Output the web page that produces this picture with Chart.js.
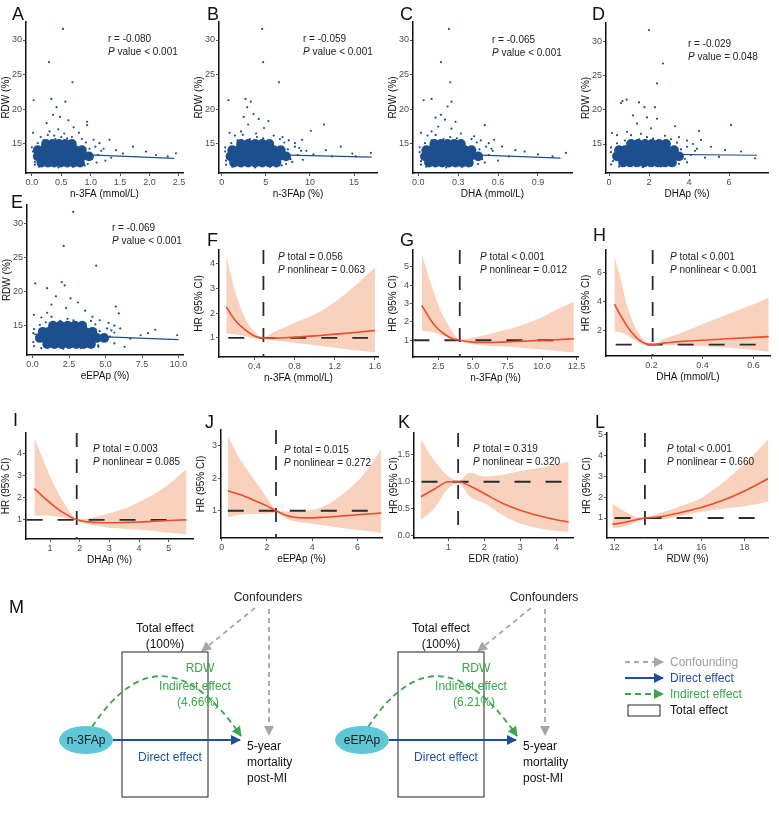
<!DOCTYPE html>
<html>
<head>
<meta charset="utf-8">
<script src="https://cdn.jsdelivr.net/npm/chart.js@4.4.1/dist/chart.umd.min.js"></script>
<style>
body { margin:0; background:#fff; font-family:"Liberation Sans", Arial, sans-serif; }
#wrap { position:relative; width:779px; height:835px; overflow:hidden; background:#fff; }
#wrap canvas { position:absolute; z-index:1; }
.lbl { position:absolute; font-size:18px; line-height:18px; color:#111; z-index:3; }
.note { position:absolute; font-size:10px; line-height:12.5px; color:#222; white-space:nowrap; z-index:3; }
svg text { font-family:"Liberation Sans", Arial, sans-serif; font-size:12px; }
</style>
</head>
<body>
<div id="wrap">
  <div class="lbl" style="left:12px;top:5px">A</div>
  <div class="lbl" style="left:207px;top:5px">B</div>
  <div class="lbl" style="left:400px;top:5px">C</div>
  <div class="lbl" style="left:592px;top:5px">D</div>
  <div class="lbl" style="left:11px;top:193px">E</div>
  <div class="lbl" style="left:207px;top:231px">F</div>
  <div class="lbl" style="left:400px;top:231px">G</div>
  <div class="lbl" style="left:593px;top:226px">H</div>
  <div class="lbl" style="left:13px;top:411px">I</div>
  <div class="lbl" style="left:205px;top:413px">J</div>
  <div class="lbl" style="left:398px;top:413px">K</div>
  <div class="lbl" style="left:595px;top:413px">L</div>
  <div class="lbl" style="left:9px;top:598px">M</div>

  <div class="note" style="left:108px;top:33px">r = -0.080<br><i>P</i> value &lt; 0.001</div>
  <div class="note" style="left:303px;top:33px">r = -0.059<br><i>P</i> value &lt; 0.001</div>
  <div class="note" style="left:492px;top:34px">r = -0.065<br><i>P</i> value &lt; 0.001</div>
  <div class="note" style="left:688px;top:38px">r = -0.029<br><i>P</i> value = 0.048</div>
  <div class="note" style="left:112px;top:222px">r = -0.069<br><i>P</i> value &lt; 0.001</div>
  <div class="note" style="left:278px;top:251px"><i>P</i> total = 0.056<br><i>P</i> nonlinear = 0.063</div>
  <div class="note" style="left:480px;top:251px"><i>P</i> total &lt; 0.001<br><i>P</i> nonlinear = 0.012</div>
  <div class="note" style="left:670px;top:251px"><i>P</i> total &lt; 0.001<br><i>P</i> nonlinear &lt; 0.001</div>
  <div class="note" style="left:93px;top:443px"><i>P</i> total = 0.003<br><i>P</i> nonlinear = 0.085</div>
  <div class="note" style="left:284px;top:444px"><i>P</i> total = 0.015<br><i>P</i> nonlinear = 0.272</div>
  <div class="note" style="left:473px;top:443px"><i>P</i> total = 0.319<br><i>P</i> nonlinear = 0.320</div>
  <div class="note" style="left:667px;top:443px"><i>P</i> total &lt; 0.001<br><i>P</i> nonlinear = 0.660</div>

  <svg width="779" height="835" style="position:absolute;left:0;top:0;z-index:2">
    <defs>
      <marker id="hg" markerUnits="userSpaceOnUse" viewBox="0 0 10 10" refX="9" refY="5" markerWidth="11" markerHeight="10" orient="auto"><path d="M0,0 L10,5 L0,10 z" fill="#a6a6a6"/></marker>
      <marker id="hb" markerUnits="userSpaceOnUse" viewBox="0 0 10 10" refX="9" refY="5" markerWidth="11" markerHeight="10" orient="auto"><path d="M0,0 L10,5 L0,10 z" fill="#1f4e9b"/></marker>
      <marker id="hgr" markerUnits="userSpaceOnUse" viewBox="0 0 10 10" refX="9" refY="5" markerWidth="11" markerHeight="10" orient="auto"><path d="M0,0 L10,5 L0,10 z" fill="#3aa64a"/></marker>
    </defs>
    <g>
      <text x="268" y="601" text-anchor="middle" fill="#222">Confounders</text>
      <path d="M255,608 L202,651" stroke="#a6a6a6" stroke-width="1.8" stroke-dasharray="5 4" fill="none" marker-end="url(#hg)"/>
      <path d="M269,609 L269,735" stroke="#a6a6a6" stroke-width="1.8" stroke-dasharray="5 4" fill="none" marker-end="url(#hg)"/>
      <text x="165" y="632" text-anchor="middle" fill="#111">Total effect</text>
      <text x="165" y="648" text-anchor="middle" fill="#111">(100%)</text>
      <rect x="122" y="652" width="86" height="145" fill="none" stroke="#222" stroke-width="1"/>
      <text x="200" y="672" text-anchor="middle" fill="#3aa64a">RDW</text>
      <path d="M92,727 Q162,621 241,736" stroke="#3aa64a" stroke-width="1.8" stroke-dasharray="6 4" fill="none" marker-end="url(#hgr)"/>
      <text x="195" y="690" text-anchor="middle" fill="#3aa64a">Indirect effect</text>
      <text x="198" y="706" text-anchor="middle" fill="#3aa64a">(4.66%)</text>
      <ellipse cx="86" cy="740" rx="27" ry="14" fill="#5fc7d6"/>
      <text x="86" y="744" text-anchor="middle" fill="#1a1a1a">n-3FAp</text>
      <path d="M113,740 L240,740" stroke="#1f4e9b" stroke-width="1.8" fill="none" marker-end="url(#hb)"/>
      <text x="170" y="761" text-anchor="middle" fill="#1f4e9b">Direct effect</text>
      <text x="247" y="750" fill="#111">5-year</text>
      <text x="247" y="766" fill="#111">mortality</text>
      <text x="247" y="782" fill="#111">post-MI</text>
    </g>
    <g transform="translate(276,0)">
      <text x="268" y="601" text-anchor="middle" fill="#222">Confounders</text>
      <path d="M255,608 L202,651" stroke="#a6a6a6" stroke-width="1.8" stroke-dasharray="5 4" fill="none" marker-end="url(#hg)"/>
      <path d="M269,609 L269,735" stroke="#a6a6a6" stroke-width="1.8" stroke-dasharray="5 4" fill="none" marker-end="url(#hg)"/>
      <text x="165" y="632" text-anchor="middle" fill="#111">Total effect</text>
      <text x="165" y="648" text-anchor="middle" fill="#111">(100%)</text>
      <rect x="122" y="652" width="86" height="145" fill="none" stroke="#222" stroke-width="1"/>
      <text x="200" y="672" text-anchor="middle" fill="#3aa64a">RDW</text>
      <path d="M92,727 Q162,621 241,736" stroke="#3aa64a" stroke-width="1.8" stroke-dasharray="6 4" fill="none" marker-end="url(#hgr)"/>
      <text x="195" y="690" text-anchor="middle" fill="#3aa64a">Indirect effect</text>
      <text x="198" y="706" text-anchor="middle" fill="#3aa64a">(6.21%)</text>
      <ellipse cx="86" cy="740" rx="27" ry="14" fill="#5fc7d6"/>
      <text x="86" y="744" text-anchor="middle" fill="#1a1a1a">eEPAp</text>
      <path d="M113,740 L240,740" stroke="#1f4e9b" stroke-width="1.8" fill="none" marker-end="url(#hb)"/>
      <text x="170" y="761" text-anchor="middle" fill="#1f4e9b">Direct effect</text>
      <text x="247" y="750" fill="#111">5-year</text>
      <text x="247" y="766" fill="#111">mortality</text>
      <text x="247" y="782" fill="#111">post-MI</text>
    </g>
    <g>
      <path d="M625,662 L663,662" stroke="#a6a6a6" stroke-width="1.8" stroke-dasharray="5 4" marker-end="url(#hg)"/>
      <text x="670" y="666" fill="#a0a0a0">Confounding</text>
      <path d="M625,678 L663,678" stroke="#1f4e9b" stroke-width="1.8" marker-end="url(#hb)"/>
      <text x="670" y="682" fill="#1f4e9b">Direct effect</text>
      <path d="M625,694 L663,694" stroke="#3aa64a" stroke-width="1.8" stroke-dasharray="6 4" marker-end="url(#hgr)"/>
      <text x="670" y="698" fill="#3aa64a">Indirect effect</text>
      <rect x="628" y="705" width="32" height="11" fill="none" stroke="#222" stroke-width="1"/>
      <text x="670" y="714" fill="#111">Total effect</text>
    </g>
  </svg>
</div>

<script>
// ---- scatter panels A-E: RDW vs omega-3 measures ----
const rdwTicks = [15, 20, 25, 30];

const xtA = [0, 0.5, 1, 1.5, 2, 2.5];
const coreA = [[0.16,12.3],[0.27,12.3],[0.38,12.3],[0.49,12.3],[0.60,12.3],[0.71,12.3],[0.82,12.3],
  [0.1,13.2],[0.19,13.2],[0.30,13.2],[0.41,13.2],[0.52,13.2],[0.63,13.2],[0.74,13.2],[0.85,13.2],[0.97,13.2],
  [0.1,14.1],[0.19,14.1],[0.30,14.1],[0.41,14.1],[0.52,14.1],[0.63,14.1],[0.74,14.1],[0.85,14.1],
  [0.24,15.0],[0.35,15.0],[0.46,15.0],[0.57,15.0],[0.68,15.0]];
const sparseA = [[0.53,31.6],[0.29,26.8],[0.69,23.9],[0.03,21.3],[0.33,21.5],[0.57,21.1],[0.42,20.3],[0.36,19.2],
  [0.48,18.9],[0.62,18.4],[0.94,18.2],[0.94,17.7],[0.25,18.0],[0.71,17.4],[0.3,16.8],[0.45,17.1],[0.55,16.5],
  [0.38,16.2],[0.68,16.0],[0.8,16.6],[0.15,16.0],[0.02,16.6],[1.05,15.6],[1.15,15.1],[1.32,15.6],[1.22,14.3],
  [1.43,14.1],[1.35,13.0],[1.55,13.6],[1.72,14.6],[1.94,13.9],[2.11,13.4],[2.31,13.2],[2.45,13.65],[1.1,12.3],
  [1.25,12.6],[0.05,12.4],[0.02,13.9],[0.9,11.9],[0.3,11.8],
  [0.05,12.0],[0.12,11.7],[0.45,11.6],[0.7,11.7],[0.95,12.1],[1.02,12.8],[1.12,13.4],[1.18,14.0],[1.08,14.6],
  [0.98,14.3],[0.92,15.2],[0.85,15.7],[0.6,15.8],[0.4,15.7],[0.2,15.5],[0.1,15.1],[0.0,14.5],[0.5,16.0],[0.27,16.3]];
const fitA = [[0.05,13.75],[2.42,12.9]];

const xtB = [0, 5, 10, 15];
const coreB = [[1.4,12.3],[2.2,12.3],[3.0,12.3],[3.8,12.3],[4.6,12.3],[5.4,12.3],[6.2,12.3],
  [1.0,13.2],[1.7,13.2],[2.5,13.2],[3.3,13.2],[4.1,13.2],[4.9,13.2],[5.7,13.2],[6.5,13.2],[7.3,13.2],
  [1.2,14.1],[1.9,14.1],[2.7,14.1],[3.5,14.1],[4.3,14.1],[5.1,14.1],[5.9,14.1],[6.7,14.1],
  [2.2,15.0],[3.0,15.0],[3.8,15.0],[4.6,15.0],[5.4,15.0]];
const sparseB = [[4.6,31.6],[4.7,26.8],[6.5,23.9],[0.76,21.3],[2.7,21.5],[3.3,21.1],[2.9,20.3],[3.6,19.3],[2.5,18.9],
  [4.2,18.6],[5.3,18.3],[3.0,17.8],[4.8,17.3],[10.1,16.9],[11.6,17.8],[2.2,16.8],[3.9,16.5],[5.9,16.2],[6.9,16.0],
  [1.5,16.2],[0.9,16.6],[7.6,15.5],[8.3,15.1],[9.1,15.6],[8.8,14.4],[9.6,14.0],[10.4,13.5],[11.8,14.1],[12.5,13.2],
  [13.5,14.6],[14.8,13.6],[15.2,13.2],[16.9,13.7],[8.0,12.4],[9.2,12.7],[0.5,12.6],[0.4,13.9],[6.8,11.9],[2.0,11.8],
  [0.5,12.0],[1.2,11.7],[3.8,11.6],[5.5,11.7],[7.3,12.1],[7.8,12.8],[8.6,13.4],[9.0,14.0],[8.3,14.6],
  [7.5,14.2],[7.1,15.2],[6.6,15.7],[4.7,15.8],[3.2,15.7],[1.8,15.5],[1.1,15.1],[0.4,14.5],[4.0,16.0],[2.4,16.3]];
const fitB = [[0.8,13.6],[17,13.1]];

const xtC = [0, 0.3, 0.6, 0.9];
const coreC = [[0.08,12.3],[0.13,12.3],[0.18,12.3],[0.23,12.3],[0.28,12.3],[0.33,12.3],[0.38,12.3],
  [0.05,13.2],[0.09,13.2],[0.14,13.2],[0.19,13.2],[0.24,13.2],[0.29,13.2],[0.34,13.2],[0.39,13.2],[0.45,13.2],
  [0.06,14.1],[0.10,14.1],[0.15,14.1],[0.20,14.1],[0.25,14.1],[0.30,14.1],[0.35,14.1],[0.40,14.1],
  [0.12,15.0],[0.17,15.0],[0.22,15.0],[0.27,15.0],[0.32,15.0]];
const sparseC = [[0.23,31.6],[0.17,26.8],[0.24,23.9],[0.04,21.3],[0.10,21.5],[0.25,21.1],[0.22,20.4],[0.17,19.2],
  [0.13,18.8],[0.2,18.5],[0.28,18.2],[0.5,17.7],[0.15,17.5],[0.25,17.2],[0.1,16.8],[0.32,16.5],[0.42,16.1],[0.07,16.2],
  [0.02,16.6],[0.47,15.5],[0.53,15.1],[0.57,15.6],[0.55,14.3],[0.63,14.6],[0.73,14.1],[0.8,13.9],[0.68,13.2],[0.9,13.5],
  [1.01,13.2],[1.11,13.7],[0.5,12.3],[0.6,12.6],[0.02,12.5],[0.01,13.8],[0.4,11.9],[0.12,11.8],
  [0.02,12.0],[0.06,11.7],[0.21,11.6],[0.33,11.7],[0.45,12.1],[0.48,12.8],[0.53,13.4],[0.56,14.0],[0.51,14.6],
  [0.46,14.2],[0.44,15.2],[0.4,15.7],[0.29,15.8],[0.19,15.7],[0.1,15.5],[0.05,15.1],[0.01,14.5],[0.24,16.0],[0.13,16.3]];
const fitC = [[0.03,13.7],[1.07,12.95]];

const xtD = [0, 2, 4, 6];
const coreD = [[0.7,12.3],[1.05,12.3],[1.4,12.3],[1.75,12.3],[2.1,12.3],[2.45,12.3],[2.8,12.3],[3.15,12.3],
  [0.4,13.2],[0.7,13.2],[1.05,13.2],[1.4,13.2],[1.75,13.2],[2.1,13.2],[2.45,13.2],[2.8,13.2],[3.15,13.2],[3.5,13.2],
  [0.5,14.1],[0.8,14.1],[1.15,14.1],[1.5,14.1],[1.85,14.1],[2.2,14.1],[2.55,14.1],[2.9,14.1],[3.25,14.1],
  [1.1,15.0],[1.45,15.0],[1.8,15.0],[2.15,15.0],[2.5,15.0],[2.85,15.0]];
const sparseD = [[2.0,31.7],[2.7,26.8],[2.4,23.9],[0.67,21.3],[0.88,21.5],[0.6,21.0],[1.5,21.1],[2.3,20.4],[1.77,20.4],
  [1.2,19.2],[1.9,18.9],[2.4,18.7],[1.4,18.0],[3.3,17.6],[4.5,16.9],[6.1,17.8],[2.1,17.3],[0.9,16.8],[1.6,16.5],
  [2.8,16.2],[3.5,16.0],[0.4,16.3],[0.15,16.6],[3.9,15.5],[4.2,15.0],[4.6,15.6],[4.4,14.3],[5.1,14.6],[5.8,14.1],
  [6.6,13.9],[4.8,13.0],[5.5,13.1],[7.3,12.9],[3.9,12.3],[0.2,12.5],[0.1,13.8],[3.2,11.9],[1.0,11.8],
  [0.1,12.0],[0.5,11.7],[1.7,11.6],[2.6,11.7],[3.5,12.1],[3.8,12.8],[4.1,13.4],[4.3,14.0],[3.9,14.6],
  [3.6,14.2],[3.4,15.2],[3.1,15.7],[2.2,15.8],[1.5,15.7],[0.8,15.5],[0.4,15.1],[0.1,14.5],[1.9,16.0],[1.1,16.3]];
const fitD = [[0.2,13.55],[7.4,13.35]];

const xtE = [0, 2.5, 5, 7.5, 10];
const coreE = [[1.0,12.3],[1.5,12.3],[2.0,12.3],[2.5,12.3],[3.0,12.3],[3.5,12.3],[4.0,12.3],
  [0.5,13.2],[0.9,13.2],[1.4,13.2],[1.9,13.2],[2.4,13.2],[2.9,13.2],[3.4,13.2],[3.9,13.2],[4.4,13.2],[4.9,13.2],
  [0.7,14.1],[1.1,14.1],[1.6,14.1],[2.1,14.1],[2.6,14.1],[3.1,14.1],[3.6,14.1],[4.1,14.1],
  [1.4,15.0],[1.9,15.0],[2.4,15.0],[2.9,15.0],[3.4,15.0]];
const sparseE = [[2.78,31.7],[2.13,26.7],[4.36,23.8],[0.18,21.2],[2.0,21.4],[2.2,20.9],[0.99,20.5],[1.6,19.3],[2.6,19.0],
  [3.1,18.4],[1.3,18.1],[2.3,17.6],[3.6,17.2],[5.7,17.8],[5.9,16.8],[1.0,16.9],[0.1,16.6],[0.6,16.2],[4.1,16.3],
  [4.6,15.8],[5.2,15.4],[5.6,15.0],[5.4,14.3],[6.0,14.6],[6.7,13.1],[7.4,13.6],[7.9,13.9],[8.4,14.4],[9.9,13.6],
  [6.3,11.9],[5.6,12.4],[0.05,12.6],[0.05,13.9],[4.5,11.9],[1.5,11.8],
  [0.1,12.0],[0.6,11.7],[2.1,11.6],[3.3,11.7],[4.5,12.1],[4.8,12.8],[5.3,13.4],[5.6,14.0],[5.1,14.6],
  [4.6,14.2],[4.3,15.2],[4.0,15.7],[2.8,15.8],[1.9,15.7],[0.9,15.5],[0.5,15.1],[0.1,14.5],[2.4,16.0],[1.3,16.3]];
const fitE = [[0.1,13.75],[10,12.95]];

// ---- restricted cubic spline panels F-L: HR (95% CI) ----
const xF  = [0.12, 0.2, 0.3, 0.4, 0.48, 0.6, 0.8, 1.0, 1.2, 1.4, 1.6];
const hrF = [2.25, 1.75, 1.35, 1.08, 1.0, 0.99, 1.03, 1.08, 1.15, 1.22, 1.3];
const loF = [1.18, 1.15, 1.08, 0.98, 0.97, 0.9, 0.8, 0.7, 0.6, 0.5, 0.42];
const hiF = [4.3, 3.0, 1.85, 1.25, 1.02, 1.25, 1.6, 1.95, 2.45, 3.1, 3.85];

const xG  = [1.3, 2.0, 2.5, 3.0, 3.5, 4.05, 5, 6, 7, 8, 9, 10, 11, 12.3];
const hrG = [2.9, 2.05, 1.6, 1.3, 1.1, 1.0, 0.9, 0.88, 0.9, 0.93, 0.96, 1.0, 1.03, 1.08];
const loG = [1.5, 1.45, 1.35, 1.2, 1.08, 0.98, 0.78, 0.7, 0.66, 0.62, 0.55, 0.5, 0.42, 0.35];
const hiG = [5.7, 4.0, 2.9, 2.1, 1.5, 1.02, 1.15, 1.3, 1.5, 1.7, 1.95, 2.25, 2.65, 3.1];

const xH  = [0.055, 0.08, 0.1, 0.12, 0.15, 0.18, 0.205, 0.25, 0.3, 0.4, 0.5, 0.6, 0.66];
const hrH = [3.8, 3.0, 2.4, 1.9, 1.35, 1.05, 1.0, 1.1, 1.2, 1.3, 1.4, 1.5, 1.55];
const loH = [1.9, 1.85, 1.7, 1.45, 1.15, 0.95, 0.97, 0.97, 0.95, 0.88, 0.78, 0.62, 0.5];
const hiH = [7.1, 5.5, 4.0, 2.9, 1.8, 1.15, 1.02, 1.4, 1.7, 2.4, 3.1, 3.8, 4.25];

const xI  = [0.47, 0.8, 1.2, 1.6, 1.9, 2.2, 2.6, 3.0, 3.5, 4.0, 4.5, 5.0, 5.6];
const hrI = [2.4, 2.0, 1.55, 1.2, 1.0, 0.92, 0.88, 0.87, 0.88, 0.9, 0.94, 0.97, 1.0];
const loI = [1.2, 1.2, 1.15, 1.05, 0.97, 0.82, 0.72, 0.65, 0.6, 0.55, 0.5, 0.42, 0.35];
const hiI = [4.7, 3.6, 2.4, 1.5, 1.03, 1.05, 1.15, 1.3, 1.5, 1.8, 2.15, 2.6, 3.3];

const xJ  = [0.27, 0.8, 1.5, 2.0, 2.4, 2.8, 3.2, 3.8, 4.5, 5.5, 6.3, 7.05];
const hrJ = [1.62, 1.5, 1.3, 1.15, 1.0, 0.87, 0.8, 0.78, 0.8, 0.85, 0.89, 0.93];
const loJ = [0.8, 0.88, 0.9, 0.9, 0.95, 0.78, 0.68, 0.62, 0.55, 0.45, 0.38, 0.32];
const hiJ = [3.3, 2.6, 1.9, 1.4, 1.03, 0.98, 0.98, 1.0, 1.13, 1.6, 2.15, 2.9];

const xK  = [0.23, 0.6, 1.0, 1.28, 1.6, 2.0, 2.5, 3.0, 3.5, 4.0, 4.35];
const hrK = [0.72, 0.86, 1.0, 1.0, 0.92, 0.78, 0.6, 0.47, 0.37, 0.29, 0.25];
const loK = [0.28, 0.5, 0.88, 0.97, 0.72, 0.6, 0.38, 0.22, 0.13, 0.08, 0.06];
const hiK = [1.8, 1.4, 1.1, 1.02, 1.17, 1.1, 1.13, 1.2, 1.25, 1.32, 1.38];

const xL  = [11.9, 12.5, 13.0, 13.4, 14.0, 15, 16, 17, 18, 19.2];
const hrL = [0.7, 0.8, 0.92, 1.0, 1.05, 1.25, 1.5, 1.85, 2.3, 2.95];
const loL = [0.5, 0.6, 0.8, 0.97, 0.95, 1.08, 1.3, 1.45, 1.56, 1.8];
const hiL = [1.7, 1.3, 1.05, 1.02, 1.2, 1.55, 1.96, 2.7, 3.6, 4.9];

// reference lines: HR = 1 segment and the cut-off value
const refH = { F:[0.14,1.53], G:[0.7,11.5], H:[0.06,0.63], I:[0.21,5.4], J:[0.27,6.7], K:[0.25,4.3], L:[12,18.7] };
const refV = { F:0.49, G:4.05, H:0.205, I:1.9, J:2.4, K:1.27, L:13.4 };

const FONT = '"Liberation Sans", Arial, sans-serif';
const BLUE = '#1d4f8f';
const RED = '#ee4a2c';
const RIBBON = '#f9d2be';
const TICK = '#4d4d4d';
const YW = 26, XH = 27, PT = 8, PR = 12;

const wrap = document.getElementById('wrap');

function makeCanvas(p) {
  const cv = document.createElement('canvas');
  const left = p.ax - YW, top = p.top - PT;
  cv.width = p.right - left + PR;
  cv.height = p.bottom + XH - top;
  cv.style.left = left + 'px';
  cv.style.top = top + 'px';
  wrap.appendChild(cv);
  return cv;
}

function scales(p) {
  return {
    x: {
      type: 'linear', min: p.x[0], max: p.x[1],
      afterBuildTicks: s => { s.ticks = p.xt.map(v => ({ value: v })); },
      afterFit: s => { s.height = XH; },
      ticks: { callback: v => v.toFixed(p.xd), color: TICK, font: { family: FONT, size: 9 }, padding: 1, maxRotation: 0, autoSkip: false },
      grid: { drawOnChartArea: false, tickLength: 3, color: '#555' },
      border: { color: '#111', width: 1.5 },
      title: { display: true, text: p.xTitle, color: '#111', font: { family: FONT, size: 10 }, padding: 0 }
    },
    y: {
      type: 'linear', min: p.y[0], max: p.y[1],
      afterBuildTicks: s => { s.ticks = p.yt.map(v => ({ value: v })); },
      afterFit: s => { s.width = YW; },
      ticks: { callback: v => v.toFixed(p.yd), color: TICK, font: { family: FONT, size: 9 }, padding: 1, autoSkip: false },
      grid: { drawOnChartArea: false, tickLength: 3, color: '#555' },
      border: { color: '#111', width: 1.5 },
      title: { display: true, text: p.yTitle, color: '#111', font: { family: FONT, size: 10 }, padding: 0 }
    }
  };
}

function common(p) {
  return {
    responsive: false, animation: false, devicePixelRatio: 1, events: [],
    layout: { padding: { top: PT, right: PR, left: 0, bottom: 0 } },
    plugins: { legend: { display: false }, tooltip: { enabled: false } },
    scales: scales(p)
  };
}

const pts = arr => arr.map(d => ({ x: d[0], y: d[1] }));
const xy = (xs, ys) => xs.map((x, i) => ({ x: x, y: ys[i] }));

function scatterPanel(p) {
  new Chart(makeCanvas(p), {
    type: 'scatter',
    data: { datasets: [
      { data: pts(p.fit), showLine: true, borderColor: BLUE, borderWidth: 1.2, pointRadius: 0 },
      { data: pts(p.core), pointRadius: 4.9, backgroundColor: BLUE, borderWidth: 0 },
      { data: pts(p.sparse), pointRadius: 1.1, backgroundColor: BLUE, borderWidth: 0 }
    ] },
    options: common(p)
  });
}

function hrPanel(p) {
  const dash = { showLine: true, borderColor: '#2b2b2b', borderWidth: 1.8, pointRadius: 0 };
  new Chart(makeCanvas(p), {
    type: 'scatter',
    data: { datasets: [
      { data: xy(p.xs, p.hr), showLine: true, borderColor: RED, borderWidth: 1.6, pointRadius: 0, cubicInterpolationMode: 'monotone' },
      Object.assign({ data: [{ x: p.h[0], y: 1 }, { x: p.h[1], y: 1 }], borderDash: [16, 15] }, dash),
      Object.assign({ data: [{ x: p.v, y: p.y[1] }, { x: p.v, y: p.y[0] }], borderDash: [14, 12] }, dash),
      { data: xy(p.xs, p.hi), showLine: true, borderWidth: 0, pointRadius: 0, fill: '+1', backgroundColor: RIBBON, cubicInterpolationMode: 'monotone' },
      { data: xy(p.xs, p.lo), showLine: true, borderWidth: 0, pointRadius: 0, fill: false, cubicInterpolationMode: 'monotone' }
    ] },
    options: common(p)
  });
}

const rdw = { yt: rdwTicks, yd: 0, yTitle: 'RDW (%)' };
scatterPanel(Object.assign({ ax: 26, top: 22, bottom: 173, right: 183, x: [-0.1, 2.57], y: [10.8, 32.6], xt: xtA, xd: 1, xTitle: 'n-3FA (mmol/L)', core: coreA, sparse: sparseA, fit: fitA }, rdw));
scatterPanel(Object.assign({ ax: 219, top: 22, bottom: 173, right: 377, x: [-0.3, 17.6], y: [10.8, 32.6], xt: xtB, xd: 0, xTitle: 'n-3FAp (%)', core: coreB, sparse: sparseB, fit: fitB }, rdw));
scatterPanel(Object.assign({ ax: 413, top: 22, bottom: 173, right: 572, x: [-0.04, 1.156], y: [10.8, 32.6], xt: xtC, xd: 1, xTitle: 'DHA (mmol/L)', core: coreC, sparse: sparseC, fit: fitC }, rdw));
scatterPanel(Object.assign({ ax: 606, top: 23, bottom: 173, right: 768, x: [-0.15, 7.95], y: [10.75, 32.74], xt: xtD, xd: 0, xTitle: 'DHAp (%)', core: coreD, sparse: sparseD, fit: fitD }, rdw));
scatterPanel(Object.assign({ ax: 27, top: 205, bottom: 355, right: 183, x: [-0.38, 10.3], y: [10.7, 32.7], xt: xtE, xd: 1, xTitle: 'eEPAp (%)', core: coreE, sparse: sparseE, fit: fitE }, rdw));

const hrT = { yTitle: 'HR (95% CI)' };
hrPanel(Object.assign({ ax: 219, top: 250, bottom: 357, right: 378, x: [0.048, 1.63], y: [0.23, 4.54], xt: [0.4, 0.8, 1.2, 1.6], xd: 1, yt: [1, 2, 3, 4], yd: 0, xTitle: 'n-3FA (mmol/L)', xs: xF, hr: hrF, lo: loF, hi: hiF, h: refH.F, v: refV.F }, hrT));
hrPanel(Object.assign({ ax: 413, top: 250, bottom: 357, right: 578, x: [0.67, 12.6], y: [0.09, 5.91], xt: [2.5, 5, 7.5, 10, 12.5], xd: 1, yt: [1, 2, 3, 4, 5], yd: 0, xTitle: 'n-3FAp (%)', xs: xG, hr: hrG, lo: loG, hi: hiG, h: refH.G, v: refV.G }, hrT));
hrPanel(Object.assign({ ax: 606, top: 250, bottom: 356, right: 770, x: [0.022, 0.665], y: [0.21, 7.55], xt: [0.2, 0.4, 0.6], xd: 1, yt: [2, 4, 6], yd: 0, xTitle: 'DHA (mmol/L)', xs: xH, hr: hrH, lo: loH, hi: hiH, h: refH.H, v: refV.H }, hrT));
hrPanel(Object.assign({ ax: 26, top: 433, bottom: 539, right: 193, x: [0.19, 5.82], y: [0.14, 4.9], xt: [1, 2, 3, 4, 5], xd: 0, yt: [1, 2, 3, 4], yd: 0, xTitle: 'DHAp (%)', xs: xI, hr: hrI, lo: loI, hi: hiI, h: refH.I, v: refV.I }, hrT));
hrPanel(Object.assign({ ax: 221, top: 430, bottom: 538, right: 382, x: [-0.03, 7.08], y: [0.16, 3.49], xt: [0, 2, 4, 6], xd: 0, yt: [1, 2, 3], yd: 0, xTitle: 'eEPAp (%)', xs: xJ, hr: hrJ, lo: loJ, hi: hiJ, h: refH.J, v: refV.J }, hrT));
hrPanel(Object.assign({ ax: 414, top: 433, bottom: 538, right: 573, x: [0.04, 4.47], y: [-0.05, 1.91], xt: [1, 2, 3, 4], xd: 0, yt: [0, 0.5, 1, 1.5], yd: 1, xTitle: 'EDR (ratio)', xs: xK, hr: hrK, lo: loK, hi: hiK, h: refH.K, v: refV.K }, hrT));
hrPanel(Object.assign({ ax: 607, top: 433, bottom: 538, right: 768, x: [11.65, 19.08], y: [0.04, 5.08], xt: [12, 14, 16, 18], xd: 0, yt: [1, 2, 3, 4, 5], yd: 0, xTitle: 'RDW (%)', xs: xL, hr: hrL, lo: loL, hi: hiL, h: refH.L, v: refV.L }, hrT));
</script>
</body>
</html>
